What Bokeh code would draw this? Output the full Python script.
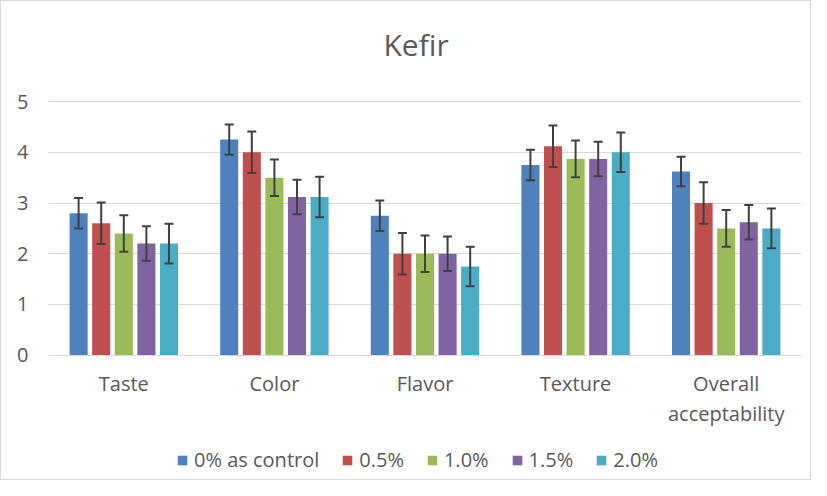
from bokeh.plotting import figure
from bokeh.models import (ColumnDataSource, Range1d, Legend, LegendItem,
                          Whisker, TeeHead, FixedTicker)
from bokeh.embed import file_html
from bokeh.resources import INLINE

categories = ["Taste", "Color", "Flavor", "Texture", "Overall\nacceptability"]
series = ["0% as control", "0.5%", "1.0%", "1.5%", "2.0%"]
colors = ["#4F81BD", "#C0504D", "#9BBB59", "#8064A2", "#4BACC6"]

control = [2.80, 4.25, 2.75, 3.75, 3.62]
p05 = [2.60, 4.00, 2.00, 4.12, 3.00]
p10 = [2.40, 3.50, 2.00, 3.87, 2.50]
p15 = [2.20, 3.12, 2.00, 3.87, 2.62]
p20 = [2.20, 3.12, 1.75, 4.00, 2.50]

control_err = [0.30, 0.30, 0.30, 0.30, 0.29]
p05_err = [0.41, 0.41, 0.41, 0.41, 0.41]
p10_err = [0.36, 0.36, 0.36, 0.36, 0.36]
p15_err = [0.34, 0.34, 0.34, 0.34, 0.34]
p20_err = [0.39, 0.40, 0.39, 0.39, 0.39]

y_ticks = [0, 1, 2, 3, 4, 5]

values = [control, p05, p10, p15, p20]
errors = [control_err, p05_err, p10_err, p15_err, p20_err]

FONT = "Open Sans"
TXT = "#595959"

centers = [i + 0.5 for i in range(len(categories))]

# frame extends beyond the 0..5 value band so the legend can sit inside it
p = figure(x_range=Range1d(0, len(categories)), y_range=Range1d(-2.45, 5.632),
           width=811, height=480, output_backend="svg", toolbar_location=None,
           min_border_left=47, min_border_right=11, min_border_top=68, min_border_bottom=2,
           title="Kefir")
p.styles = {"border": "1px solid #d9d9d9", "box-sizing": "border-box"}

p.title.align = "left"
p.title.offset = 335
p.title.text_font = FONT
p.title.text_font_size = "30px"
p.title.text_font_style = "normal"
p.title.text_color = TXT

p.outline_line_color = None
p.background_fill_color = "white"
p.border_fill_color = "white"

p.xgrid.grid_line_color = None
p.ygrid.grid_line_color = "#d9d9d9"
p.ygrid.grid_line_width = 1
p.yaxis.ticker = FixedTicker(ticks=y_ticks)
p.yaxis.axis_line_color = None
p.yaxis.major_tick_line_color = None
p.yaxis.minor_tick_line_color = None
p.yaxis.major_label_standoff = 14
p.yaxis.major_label_text_font = FONT
p.yaxis.major_label_text_font_size = "20px"
p.yaxis.major_label_text_color = TXT

p.xaxis.fixed_location = 0
p.xaxis.ticker = FixedTicker(ticks=centers)
p.xaxis.major_label_overrides = {c: name for c, name in zip(centers, categories)}
p.xaxis.axis_line_color = "#d9d9d9"
p.xaxis.major_tick_line_color = None
p.xaxis.minor_tick_line_color = None
p.xaxis.major_label_standoff = 9
p.xaxis.major_label_text_font = FONT
p.xaxis.major_label_text_font_size = "20px"
p.xaxis.major_label_text_color = TXT
p.xaxis.major_label_text_line_height = 1.1

offsets = [-0.3, -0.15, 0.0, 0.15, 0.3]
items = []
for name, vals, errs, col, off in zip(series, values, errors, colors, offsets):
    xs = [c + off for c in centers]
    src = ColumnDataSource(dict(x=xs, val=vals,
                                upper=[v + e for v, e in zip(vals, errs)],
                                lower=[v - e for v, e in zip(vals, errs)]))
    r = p.vbar(x="x", top="val", width=0.12, source=src,
               fill_color=col, line_color=None)
    w = Whisker(source=src, base="x", upper="upper", lower="lower", level="annotation",
                line_color="#404040", line_width=2,
                upper_head=TeeHead(size=9, line_color="#404040", line_width=2),
                lower_head=TeeHead(size=9, line_color="#404040", line_width=2))
    p.add_layout(w)
    items.append(LegendItem(label=name, renderers=[r]))

legend = Legend(items=items, orientation="horizontal", location=(128, 6),
                glyph_width=12, glyph_height=12, label_standoff=6, spacing=22,
                label_text_font=FONT, label_text_font_size="20px", label_text_color=TXT,
                border_line_color=None, background_fill_alpha=0, padding=0, margin=0)
p.add_layout(legend)

open("out.html", "w").write(file_html(p, INLINE))
